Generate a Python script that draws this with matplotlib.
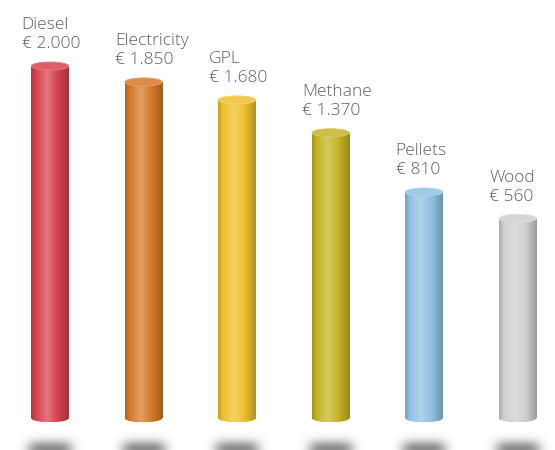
import matplotlib
matplotlib.use("Agg")
import matplotlib.pyplot as plt
import numpy as np
from matplotlib.colors import LinearSegmentedColormap, to_rgb
from matplotlib.patches import Ellipse

#%%
# data
fuels = ['Diesel', 'Electricity', 'GPL', 'Methane', 'Pellets', 'Wood']
costs = [2000, 1850, 1680, 1370, 810, 560]   # euro per year
colors = ['#d8414e', '#d6782a', '#efc02c', '#c4b424', '#8ec2e2', '#cfcfcf']

# the original graphic does not start the cylinders at zero
base = -1326

#%%
fig = plt.figure(figsize=(5.55, 4.5), dpi=100)
ax = fig.add_axes([0, 0, 1, 1])
ymin, ymax = -1628, 2624
ax.set_xlim(-0.535, 5.40)
ax.set_ylim(ymin, ymax)
ax.axis('off')

x = np.arange(len(fuels))
width = 0.40
heights = [c - base for c in costs]
bars = ax.bar(x, heights, width, bottom=base, color='none', edgecolor='none')

cap_h = 76  # ellipse height in data units (about 8 px)


def shade(col, f):
    """Mix colour with white (f>0) or black (f<0)."""
    r = np.array(to_rgb(col))
    if f > 0:
        return tuple(r + (1 - r) * f)
    return tuple(r * (1 + f))


for rect, col in zip(bars, colors):
    x0 = rect.get_x()
    w = rect.get_width()
    y0 = rect.get_y()
    y1 = y0 + rect.get_height()
    cmap = LinearSegmentedColormap.from_list('cyl', [
        (0.0, shade(col, -0.18)),
        (0.12, col),
        (0.42, shade(col, 0.28)),
        (0.70, col),
        (1.0, shade(col, -0.25)),
    ])
    grad = np.linspace(0, 1, 256).reshape(1, -1)
    # bottom cap (under the body)
    bot = Ellipse((x0 + w / 2, y0), w, cap_h, facecolor=shade(col, -0.08),
                  edgecolor='none', zorder=2)
    ax.add_patch(bot)
    im = ax.imshow(grad, cmap=cmap, aspect='auto', extent=(x0, x0 + w, y0, y1),
                   zorder=3, interpolation='bicubic')
    im.set_clip_path(rect)
    imb = ax.imshow(grad, cmap=cmap, aspect='auto',
                    extent=(x0, x0 + w, y0 - cap_h / 2, y0), zorder=3)
    imb.set_clip_path(bot)
    top = Ellipse((x0 + w / 2, y1), w, cap_h, facecolor=shade(col, 0.15),
                  edgecolor=shade(col, 0.3), linewidth=0.6, zorder=4)
    ax.add_patch(top)

    # blurred floor shadow, centred near the lower edge of the picture
    sx = np.linspace(-1, 1, 160)
    sy = np.linspace(-1, 1, 100)
    gx, gy = np.meshgrid(sx, sy)
    g = np.exp(-(gx ** 4) / 0.2 - (gy ** 2) / 0.14)
    rgba = np.zeros((100, 160, 4))
    rgba[..., :3] = 0.42
    rgba[..., 3] = 0.8 * g
    cx = x0 + w / 2
    ax.imshow(rgba, aspect='auto', extent=(cx - 0.36, cx + 0.36, ymin - 200, ymin + 220),
              zorder=1, interpolation='bicubic')

# labels above the cylinders
for rect, name, cost in zip(bars, fuels, costs):
    lab = '{}\n€ {:,}'.format(name, cost).replace(',', '.')
    ax.annotate(lab, xy=(rect.get_x(), rect.get_y() + rect.get_height()),
                xytext=(-7, 10), textcoords='offset points',
                ha='left', va='bottom', fontsize=12.5, color='#5e5e5e',
                family='Open Sans', fontweight='light', linespacing=1.25)

ax.set_xlim(-0.535, 5.40)
ax.set_ylim(ymin, ymax)

fig.savefig('out.png', dpi=100)
